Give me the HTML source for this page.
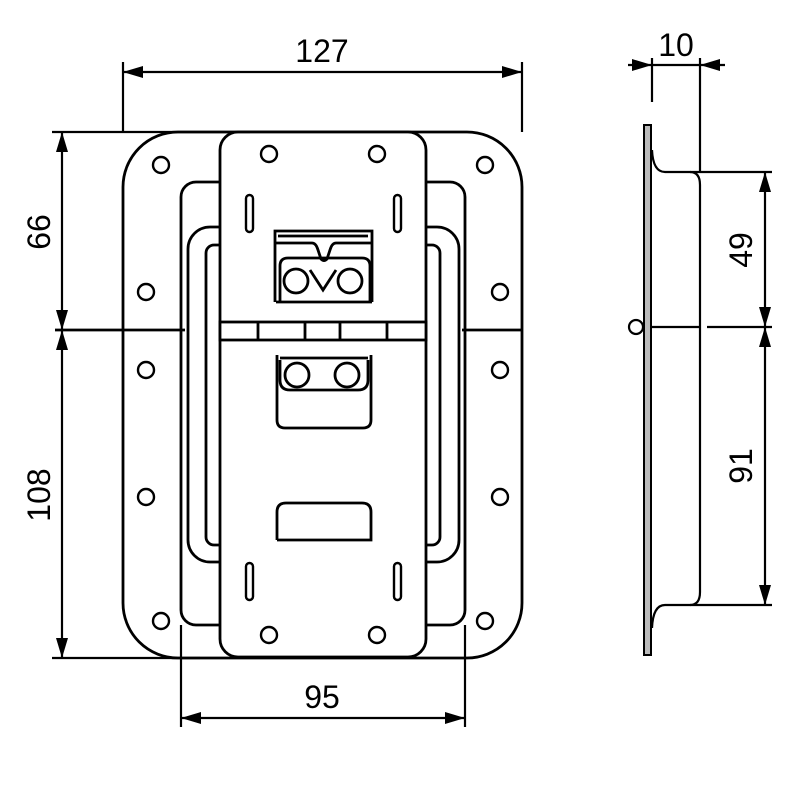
<!DOCTYPE html>
<html><head><meta charset="utf-8"><style>html,body{margin:0;padding:0;background:#fff}</style></head>
<body>
<svg width="800" height="800" viewBox="0 0 800 800" xmlns="http://www.w3.org/2000/svg">
<defs>
<marker id="b" viewBox="0 0 20 12" refX="20" refY="6" markerWidth="20" markerHeight="12" markerUnits="userSpaceOnUse" orient="auto-start-reverse"><path d="M0,0 L20,6 L0,12 z" fill="#000"/></marker>
</defs>
<g fill="none" stroke="#000" stroke-width="2.8">
<rect x="123" y="132" width="399" height="526" rx="55"/>
<rect x="181" y="182" width="284" height="443" rx="15"/>
<rect x="188" y="227" width="271" height="335" rx="22"/>
<rect x="206" y="245" width="234" height="300" rx="8"/>
<rect x="220" y="132" width="206" height="525" rx="18" fill="#fff"/>
<g stroke-width="2.4">
<circle cx="161" cy="165" r="8"/><circle cx="485" cy="165" r="8"/>
<circle cx="146" cy="292" r="8"/><circle cx="500" cy="292" r="8"/>
<circle cx="146" cy="370" r="8"/><circle cx="500" cy="370" r="8"/>
<circle cx="146" cy="497" r="8"/><circle cx="500" cy="497" r="8"/>
<circle cx="161" cy="621" r="8"/><circle cx="485" cy="621" r="8"/>
<circle cx="269" cy="154" r="8"/><circle cx="377" cy="154" r="8"/>
<circle cx="269" cy="635" r="8"/><circle cx="377" cy="635" r="8"/>
<rect x="246" y="195" width="7" height="37" rx="3.5"/><rect x="394" y="195" width="7" height="37" rx="3.5"/>
<rect x="246" y="563" width="7" height="37" rx="3.5"/><rect x="394" y="563" width="7" height="37" rx="3.5"/>
</g>
<path d="M275,302 V231 H372 V302"/>
<path d="M278,236 H368 M276,243 H312 Q316,243 318,250 L321,259 Q324,262 327,259 L330,250 Q332,243 336,243 H372"/>
<path d="M280,302 V266 Q280,258 288,258 H362 Q370,258 370,266 V302"/>
<path d="M310,270 L323,290 L336,270" />
<path d="M276,302 H372"/>
<circle cx="296" cy="281" r="12"/><circle cx="350" cy="281" r="12"/>
<rect x="220" y="322" width="206" height="18" fill="#fff"/>
<path d="M258,322 V340 M305,322 V340 M340,322 V340 M387,322 V340"/>
<path d="M277,355 V420 Q277,428 285,428 H363 Q371,428 371,420 V355"/>
<path d="M280,358 H368 M280,360 V380 Q280,390 290,390 H358 Q368,390 368,380 V360"/>
<circle cx="297" cy="375" r="12"/><circle cx="347" cy="375" r="12"/>
<path d="M277,540 V512 Q277,503 286,503 H362 Q371,503 371,512 V540 H277"/>
<path d="M55,330 H185 M462,330 H522"/>
</g>
<g fill="none" stroke="#000" stroke-width="2.2">
<path d="M123,62 V132 M522,62 V132"/>
<path d="M52,132 H250 M52,658 H200"/>
<path d="M181,625 V727 M465,625 V727"/>
<path d="M123,72 H522" marker-start="url(#b)" marker-end="url(#b)"/>
<path d="M62,132 V330" marker-start="url(#b)" marker-end="url(#b)"/>
<path d="M62,330 V658" marker-start="url(#b)" marker-end="url(#b)"/>
<path d="M181,718 H465" marker-start="url(#b)" marker-end="url(#b)"/>
<rect x="644" y="125" width="7" height="530" fill="#bbb" stroke-width="2"/>
<path d="M652,150 Q653,172 665,172 H690 Q700,172 700,185 V592 Q700,605 690,605 H665 Q653,605 652,628"/>
<path d="M690,172 H772 M652,327 H700 M707,327 H772 M690,605 H772"/>
<circle cx="636" cy="327" r="7" fill="#fff"/>
<path d="M652,58 V102 M700,58 V172"/>
<path d="M628,65 H652" marker-end="url(#b)"/>
<path d="M725,65 H700" marker-end="url(#b)"/>
<path d="M652,65 H700"/>
<path d="M765,172 V327" marker-start="url(#b)" marker-end="url(#b)"/>
<path d="M765,327 V605" marker-start="url(#b)" marker-end="url(#b)"/>
</g>
<g font-family="'Liberation Sans', sans-serif" font-size="32" fill="#000" text-anchor="middle">
<text x="322" y="62">127</text>
<text x="322" y="708">95</text>
<text x="676" y="56">10</text>
<text transform="translate(50,232) rotate(-90)">66</text>
<text transform="translate(50,495) rotate(-90)">108</text>
<text transform="translate(752,250) rotate(-90)">49</text>
<text transform="translate(752,466) rotate(-90)">91</text>
</g>
</svg>
</body></html>
